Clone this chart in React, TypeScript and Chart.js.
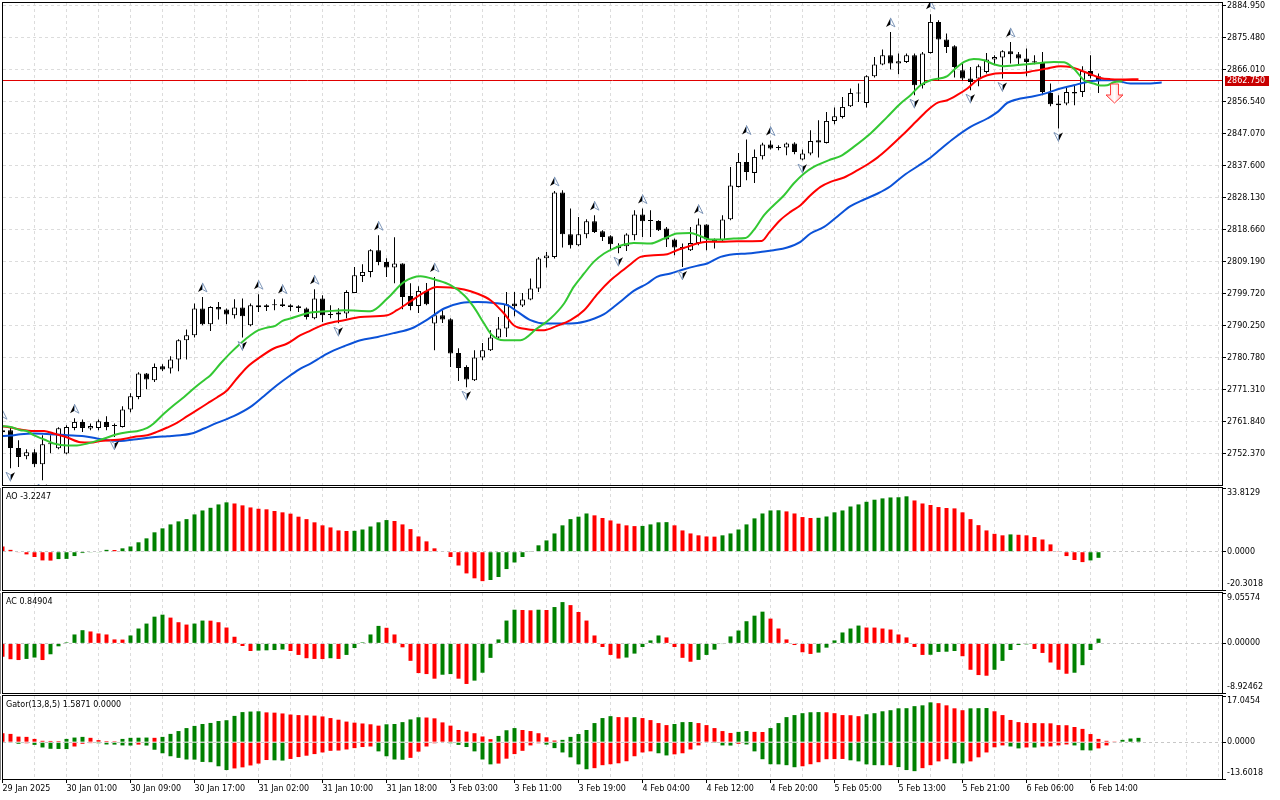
import React, { useEffect, useRef } from "react";
import { Chart, registerables } from "chart.js";

Chart.register(...registerables);

// ---------------- data ----------------
const timeLabels = [
  "29 Jan 2025", "30 Jan 01:00", "30 Jan 09:00", "30 Jan 17:00", "31 Jan 02:00", "31 Jan 10:00",
  "31 Jan 18:00", "3 Feb 03:00", "3 Feb 11:00", "3 Feb 19:00", "4 Feb 04:00", "4 Feb 12:00",
  "4 Feb 20:00", "5 Feb 05:00", "5 Feb 13:00", "5 Feb 21:00", "6 Feb 06:00", "6 Feb 14:00",
];
const barsPerLabel = 8;
const barsPerGridLine = 4;

const priceTicks = [
  2884.95, 2875.48, 2866.01, 2856.54, 2847.07, 2837.6, 2828.13, 2818.66, 2809.19, 2799.72,
  2790.25, 2780.78, 2771.31, 2761.84, 2752.37,
];
const priceMin = 2743.05;
const priceMax = 2885.69;

const barOpen = [
  2758.67, 2759.26, 2754.02, 2751.57, 2752.75, 2749.2, 2755.12, 2753.93, 2752.37, 2759.95,
  2761.72, 2759.76, 2759.95, 2761.72, 2760.53, 2760.24, 2765.39, 2769.12, 2776.04, 2774.06,
  2778.2, 2777.52, 2780.19, 2785.9, 2787.38, 2795.28, 2790.63, 2795.75, 2794.98, 2793.29,
  2795.57, 2790.34, 2796.26, 2795.75, 2796.26, 2796.55, 2796.26, 2795.96, 2795.28, 2792.41,
  2798.24, 2793.5, 2793.5, 2793.8, 2799.89, 2804.92, 2806.11, 2812.53, 2809.07, 2807.41,
  2808.6, 2799.01, 2796.05, 2800.49, 2790.84, 2793.29, 2792.11, 2782.14, 2777.99, 2774.06,
  2780.78, 2782.94, 2786.7, 2789.36, 2796.76, 2796.17, 2797.94, 2801.2, 2810.17, 2810.55,
  2829.61, 2817.27, 2814.01, 2817.27, 2821.11, 2818.16, 2816.67, 2813.87, 2813.72, 2816.97,
  2823.1, 2821.2, 2821.2, 2818.95, 2815.7, 2813.51, 2812.53, 2814.69, 2820.14, 2815.7,
  2815.49, 2821.71, 2831.27, 2838.67, 2835.41, 2840.35, 2843.81, 2842.81, 2842.93, 2844.11,
  2839.37, 2841.15, 2845.09, 2844.29, 2850.8, 2851.98, 2855.15, 2858.91, 2856.13, 2864.03,
  2867.49, 2870.24, 2867.79, 2868.26, 2870.24, 2861.36, 2870.92, 2880.1, 2874.89, 2872.91,
  2865.8, 2863.35, 2863.35, 2865.3, 2868.97, 2869.56, 2871.43, 2870.54, 2869.27, 2868.47,
  2868.26, 2859.09, 2855.95, 2855.95, 2859.38, 2859.38, 2865.6, 2864.03,
];
const barHigh = [
  2761.04, 2760.24, 2756.3, 2753.64, 2753.64, 2757.78, 2757.78, 2760.15, 2760.74, 2762.81,
  2762.43, 2761.24, 2762.43, 2763.41, 2761.24, 2766.37, 2770.21, 2776.43, 2776.22, 2779.0,
  2778.79, 2781.16, 2786.19, 2789.06, 2796.76, 2798.71, 2795.96, 2797.23, 2795.28, 2798.03,
  2798.24, 2796.76, 2799.51, 2796.55, 2798.03, 2798.24, 2796.55, 2796.26, 2795.57, 2800.99,
  2799.22, 2796.26, 2795.37, 2800.69, 2807.59, 2808.39, 2812.83, 2816.97, 2810.16, 2816.38,
  2808.69, 2802.77, 2801.88, 2802.86, 2804.63, 2794.77, 2792.41, 2783.53, 2778.5, 2782.94,
  2785.1, 2788.86, 2792.79, 2800.19, 2800.19, 2799.89, 2804.16, 2810.55, 2812.03, 2830.08,
  2830.29, 2824.87, 2822.39, 2821.71, 2822.89, 2818.45, 2816.97, 2814.6, 2817.56, 2824.37,
  2824.87, 2824.37, 2821.41, 2819.43, 2816.0, 2814.51, 2819.43, 2821.91, 2820.23, 2816.0,
  2822.89, 2837.19, 2841.33, 2845.3, 2842.33, 2844.3, 2845.0, 2843.61, 2844.4, 2844.5,
  2842.33, 2848.05, 2851.01, 2853.46, 2854.76, 2857.9, 2860.39, 2861.87, 2864.32, 2869.74,
  2871.93, 2877.14, 2870.75, 2870.75, 2870.75, 2871.22, 2882.38, 2880.6, 2876.67, 2873.2,
  2867.79, 2866.78, 2867.49, 2870.92, 2870.24, 2871.72, 2874.18, 2871.22, 2872.23, 2870.24,
  2871.22, 2861.87, 2858.4, 2860.68, 2861.36, 2866.99, 2870.24, 2864.83,
];
const barLow = [
  2757.19, 2748.0, 2748.4, 2750.68, 2748.4, 2744.46, 2752.45, 2753.64, 2752.16, 2759.26,
  2758.76, 2759.26, 2759.26, 2759.26, 2757.28, 2760.06, 2764.59, 2768.44, 2771.4, 2773.56,
  2776.81, 2776.04, 2776.72, 2780.19, 2786.7, 2790.34, 2788.65, 2792.02, 2790.63, 2792.32,
  2786.7, 2790.04, 2794.27, 2794.57, 2794.77, 2795.75, 2794.57, 2794.27, 2792.02, 2792.11,
  2791.31, 2792.41, 2790.93, 2792.41, 2799.89, 2803.15, 2804.54, 2808.09, 2804.63, 2802.77,
  2795.07, 2794.77, 2793.98, 2796.26, 2782.94, 2791.02, 2777.99, 2773.85, 2771.99, 2773.85,
  2779.98, 2782.73, 2786.4, 2786.87, 2792.99, 2795.75, 2797.74, 2800.19, 2807.41, 2810.08,
  2813.33, 2813.03, 2813.72, 2816.08, 2817.65, 2815.29, 2812.74, 2811.65, 2812.33, 2815.49,
  2816.47, 2816.47, 2818.25, 2813.51, 2811.05, 2807.59, 2812.33, 2814.01, 2812.53, 2813.03,
  2815.29, 2821.41, 2831.09, 2833.25, 2832.45, 2839.37, 2842.33, 2842.13, 2840.65, 2840.94,
  2839.17, 2840.65, 2840.0, 2844.11, 2849.82, 2851.51, 2854.94, 2856.42, 2854.76, 2863.64,
  2867.28, 2866.01, 2864.62, 2867.96, 2858.4, 2860.39, 2870.75, 2862.84, 2870.92, 2863.64,
  2862.84, 2859.88, 2861.07, 2864.83, 2867.28, 2863.35, 2867.79, 2867.28, 2864.03, 2867.58,
  2858.4, 2855.15, 2848.55, 2855.45, 2855.45, 2857.9, 2863.35, 2859.09,
];
const barClose = [
  2759.26, 2754.02, 2751.36, 2752.75, 2749.2, 2755.12, 2755.27, 2759.85, 2760.24, 2761.72,
  2759.95, 2760.53, 2761.93, 2760.24, 2760.65, 2765.39, 2769.33, 2776.04, 2774.27, 2777.99,
  2777.22, 2780.19, 2785.9, 2787.38, 2795.28, 2790.63, 2795.75, 2794.98, 2793.5, 2795.57,
  2792.99, 2796.26, 2795.66, 2796.26, 2796.34, 2796.05, 2795.75, 2795.46, 2792.79, 2798.24,
  2793.29, 2793.38, 2794.09, 2800.19, 2805.13, 2806.11, 2812.53, 2809.07, 2807.41, 2808.6,
  2798.71, 2796.05, 2800.49, 2796.55, 2793.29, 2792.02, 2781.96, 2777.7, 2774.27, 2780.78,
  2782.94, 2786.7, 2789.36, 2796.55, 2795.96, 2797.94, 2801.2, 2810.08, 2810.96, 2829.61,
  2817.27, 2814.01, 2817.27, 2821.11, 2817.95, 2816.47, 2814.31, 2813.12, 2817.18, 2823.1,
  2821.11, 2821.32, 2818.45, 2815.7, 2813.33, 2813.03, 2814.69, 2820.14, 2815.7, 2815.01,
  2821.62, 2831.68, 2838.67, 2835.71, 2840.15, 2843.81, 2842.63, 2842.87, 2844.11, 2841.62,
  2841.15, 2844.88, 2844.41, 2850.8, 2852.19, 2854.94, 2859.09, 2859.0, 2864.03, 2867.49,
  2870.24, 2867.79, 2868.47, 2870.24, 2861.36, 2870.75, 2880.1, 2874.89, 2872.7, 2866.78,
  2863.35, 2862.34, 2866.99, 2868.97, 2869.74, 2871.43, 2870.54, 2869.27, 2868.26, 2868.08,
  2859.38, 2855.74, 2855.45, 2859.38, 2858.91, 2865.6, 2864.03, 2862.75,
];

const fractalUpBars = [0, 9, 25, 32, 35, 39, 47, 54, 69, 74, 80, 87, 93, 96, 111, 116, 126];
const fractalDownBars = [1, 5, 14, 30, 42, 58, 77, 85, 100, 114, 121, 125, 132];

// Alligator lines: [bar, price]
const jawLine = [
  [-0.25, 2757.49], [1, 2757.69], [2.25, 2758.08], [3.9, 2758.28], [6, 2758.08], [8.1, 2757.78],
  [10.2, 2757.49], [11.8, 2756.8], [13.1, 2756.3], [14.75, 2756.1], [16.4, 2756.51], [18.5, 2757.1],
  [20.6, 2757.49], [22.25, 2757.78], [23.9, 2758.46], [25.2, 2759.76], [26.8, 2761.42], [28.9, 2763.41],
  [31, 2766.16], [32.7, 2769.41], [34.3, 2772.58], [36, 2775.54], [37.25, 2777.52], [38.5, 2779.0],
  [39.75, 2780.78], [40.6, 2781.96], [42.7, 2784.12], [44.75, 2785.9], [46.9, 2786.87], [49, 2788.06],
  [51.1, 2789.36], [53.1, 2792.02], [55.2, 2795.28], [57.3, 2796.94], [59.4, 2797.23], [61.5, 2796.94],
  [63.1, 2796.26], [64.4, 2794.27], [66, 2791.82], [67.75, 2790.84], [69.8, 2790.84], [71.9, 2791.02],
  [74, 2792.32], [75.2, 2793.59], [76.4, 2795.75], [77.5, 2797.8], [78.9, 2800.49], [80.6, 2802.68],
  [81.8, 2804.63], [83.5, 2805.64], [85.1, 2806.82], [86.8, 2807.89], [88.1, 2808.6], [89.75, 2810.55],
  [91.4, 2811.35], [93.1, 2811.56], [94.75, 2812.03], [96.4, 2812.53], [98.1, 2813.33], [99.75, 2815.01],
  [101, 2817.47], [102.7, 2819.43], [104.4, 2822.6], [106, 2825.56], [107.7, 2827.54], [109.4, 2829.31],
  [111, 2831.47], [112.7, 2834.73], [114.4, 2837.39], [115.8, 2839.6], [117.25, 2842.4], [118.9, 2845.59],
  [121, 2849.02], [123.1, 2851.51], [124.4, 2853.46], [125.6, 2856.13], [127.25, 2857.43], [128.9, 2858.11],
  [130.6, 2859.09], [132.25, 2860.39], [133.9, 2861.36], [135.6, 2862.34], [137.25, 2862.84], [138.9, 2862.84],
  [141, 2861.87], [143, 2861.87], [144.9, 2862.16],
];
const teethLine = [
  [-0.25, 2760.45], [1, 2760.06], [2.25, 2759.47], [3.9, 2759.06], [5.2, 2759.06], [6.4, 2758.28],
  [8.1, 2757.1], [9.75, 2755.71], [11, 2755.62], [12.25, 2756.1], [13.5, 2756.3], [14.75, 2756.51],
  [16.4, 2757.28], [18.1, 2757.78], [19.3, 2758.76], [20.6, 2760.06], [21.8, 2761.42], [23.1, 2763.41],
  [24.3, 2765.18], [25.6, 2767.16], [26.8, 2768.94], [28.1, 2771.1], [29.3, 2774.56], [30.6, 2778.0],
  [32.25, 2780.96], [33.9, 2783.44], [35.6, 2784.92], [37.25, 2787.38], [38.5, 2788.75], [39.75, 2790.13],
  [40.6, 2790.84], [42.7, 2791.82], [44.75, 2792.79], [48.1, 2793.3], [49.3, 2794.77], [50.9, 2797.23],
  [52.6, 2799.89], [54.3, 2801.67], [56, 2801.49], [57.7, 2800.9], [59.3, 2799.71], [61, 2797.73],
  [62.7, 2793.8], [63.9, 2790.34], [65.6, 2789.15], [67.7, 2788.86], [69.3, 2790.13], [71, 2791.82],
  [72.7, 2794.77], [74.4, 2799.71], [76, 2803.65], [77.5, 2806.5], [78.5, 2808.4], [79.75, 2810.55],
  [81.4, 2811.05], [83.1, 2811.35], [84.3, 2812.53], [85.6, 2813.51], [86.8, 2814.51], [88.1, 2815.01],
  [89.75, 2815.01], [91.8, 2815.2], [94.9, 2815.29], [95.9, 2817.95], [97.2, 2821.41], [98.5, 2823.87],
  [99.75, 2825.85], [101, 2828.81], [102.25, 2831.27], [103.5, 2832.74], [105.2, 2834.05], [106.9, 2836.21],
  [108.3, 2838.2], [109.4, 2840.0], [110.6, 2842.4], [112.5, 2846.6], [114.2, 2850.6], [115.6, 2853.9],
  [116.9, 2856.2], [118.1, 2856.92], [119.3, 2858.4], [120.6, 2860.39], [121.8, 2862.84], [123.1, 2864.32],
  [125.2, 2865.0], [127.25, 2865.0], [128.9, 2865.6], [130.6, 2866.31], [132.25, 2866.99], [133.5, 2866.78],
  [134.75, 2865.8], [136, 2864.62], [137.25, 2863.52], [138.5, 2863.14], [139.75, 2863.05], [142, 2863.14],
];
const lipsLine = [
  [-0.25, 2760.45], [1, 2760.24], [2.25, 2759.26], [3.1, 2758.97], [3.9, 2757.78], [5.2, 2756.51],
  [6.4, 2755.33], [8.1, 2754.74], [9.3, 2754.74], [10.6, 2755.33], [11.8, 2756.1], [13.1, 2757.1],
  [14.3, 2758.08], [15.6, 2758.67], [16.8, 2758.97], [18.1, 2759.95], [18.9, 2761.25], [20.2, 2764.21],
  [21.4, 2766.66], [22.7, 2769.12], [23.9, 2771.6], [25.2, 2774.06], [26, 2775.54], [27.25, 2779.0],
  [28.5, 2782.14], [29.75, 2784.92], [31, 2787.38], [32, 2788.86], [33.1, 2789.66], [34.1, 2790.13],
  [35, 2791.61], [36, 2792.32], [37.25, 2793.3], [38.5, 2794.09], [40.6, 2794.48], [42.7, 2794.77],
  [46, 2794.48], [48.1, 2798.24], [50.2, 2803.15], [52.25, 2804.84], [54.3, 2803.66], [56, 2802.17],
  [57.7, 2799.22], [58.9, 2795.75], [60.2, 2790.84], [61.2, 2787.38], [62.7, 2785.9], [64.75, 2785.9],
  [66.8, 2789.36], [68.5, 2792.32], [70.2, 2796.76], [71.4, 2801.67], [72.7, 2805.64], [73.9, 2809.07],
  [75.2, 2811.56], [76.4, 2813.04], [77.7, 2814.22], [78.9, 2814.69], [81, 2814.51], [82.7, 2816.0],
  [84.3, 2817.47], [86, 2817.65], [87.25, 2816.67], [88.5, 2815.7], [89.75, 2815.7], [91.4, 2816.0],
  [92.9, 2816.17], [93.9, 2818.45], [95.2, 2822.89], [96.4, 2825.85], [97.7, 2828.81], [98.9, 2832.27],
  [100.2, 2835.23], [101.4, 2837.19], [103.5, 2839.37], [104.75, 2840.35], [106.4, 2843.1], [108.5, 2847.07],
  [110.6, 2851.98], [112.25, 2855.95], [113.5, 2858.4], [114.75, 2861.36], [116, 2862.84], [118.1, 2864.03],
  [118.9, 2865.8], [120.2, 2868.26], [121.4, 2869.15], [122.7, 2868.76], [123.9, 2867.58], [125.2, 2866.99],
  [126.4, 2867.2], [128.1, 2867.58], [129.75, 2867.96], [131.4, 2868.26], [132.7, 2868.17], [133.9, 2866.31],
  [135.2, 2862.84], [136.4, 2861.87], [137.25, 2861.28], [138.1, 2861.36], [138.9, 2862.25], [140, 2862.55],
];

const bidPrice = 2862.75;
const sellSignalBar = 139;
const sellSignalPrice = 2861.72;

const aoValues = [
  2.8, 1.0, -0.2, -1.4, -2.8, -4.6, -4.7, -3.9, -3.8, -2.3,
  -0.7, -0.35, -0.2, 1.0, 0.9, 1.8, 2.8, 5.0, 7.1, 10.3,
  12.4, 14.5, 16.1, 17.3, 19.8, 21.9, 23.3, 25.1, 26.2, 25.6,
  24.6, 23.5, 22.8, 22.5, 21.6, 20.9, 20.2, 18.6, 17.3, 15.6,
  14.0, 12.9, 11.3, 11.0, 11.1, 11.8, 13.4, 15.6, 16.8, 16.3,
  14.5, 12.0, 8.1, 5.5, 1.8, 0.3, -2.8, -7.3, -11.5, -14.1,
  -15.6, -15.0, -13.4, -9.2, -5.7, -2.8, 0.4, 3.4, 6.0, 9.7,
  14.0, 17.3, 18.6, 20.3, 19.3, 17.9, 16.6, 14.9, 14.0, 13.6,
  13.7, 14.5, 15.6, 15.7, 14.0, 11.3, 9.7, 8.7, 8.1, 8.0,
  8.7, 9.7, 11.8, 14.5, 17.7, 20.3, 21.9, 22.0, 21.4, 20.3,
  18.4, 17.9, 18.0, 18.7, 20.9, 21.9, 24.0, 25.1, 26.5, 27.6,
  28.3, 28.8, 28.9, 29.4, 27.2, 25.6, 24.8, 23.7, 23.2, 23.0,
  20.9, 17.3, 14.1, 11.3, 9.5, 8.7, 9.2, 9.0, 8.7, 7.8,
  6.5, 3.9, 0.4, -2.3, -4.4, -5.5, -4.6, -3.2247,
];
const acValues = [
  -2.4, -2.85, -3.0, -2.8, -2.55, -3.0, -1.96, -0.53, 0.18, 1.6,
  2.37, 2.14, 1.78, 1.6, 0.71, 0.68, 1.42, 2.67, 3.56, 4.8,
  5.16, 4.63, 3.8, 3.38, 3.56, 4.1, 4.08, 3.8, 2.85, 1.19,
  -0.47, -1.37, -1.3, -1.25, -1.2, -1.1, -1.37, -2.08, -2.67, -2.8,
  -2.82, -2.67, -2.8, -2.08, -0.83, 0.18, 1.6, 3.14, 2.8, 1.6,
  -0.71, -3.14, -5.34, -5.52, -6.35, -5.64, -5.52, -6.35, -7.3, -6.7,
  -5.28, -2.61, 0.71, 4.1, 6.05, 6.0, 5.95, 6.05, 6.0, 6.53,
  7.42, 6.88, 5.64, 4.1, 1.42, -0.65, -2.08, -2.73, -2.55, -1.84,
  -0.65, 0.53, 1.42, 1.07, -0.65, -2.6, -3.3, -2.97, -2.08, -1.13,
  -0.12, 1.25, 2.31, 3.98, 4.98, 5.7, 4.45, 2.67, 0.71, -0.3,
  -1.6, -1.9, -1.66, -0.77, 0.53, 1.96, 2.67, 3.2, 2.85, 2.84,
  2.67, 2.49, 1.6, 1.07, -0.65, -2.08, -2.05, -1.54, -1.5, -1.37,
  -2.31, -4.75, -5.7, -5.82, -4.75, -3.15, -1.19, -0.3, -0.18, -1.01,
  -1.72, -3.44, -4.75, -5.46, -5.28, -3.92, -1.19, 0.84904,
];
const gatorUpper = [
  3.3, 3.05, 2.05, 1.95, 1.2, 0.5, 0.45, 0.4, 1.2, 1.7,
  1.95, 1.6, 0.75, 0.4, 0.35, 1.2, 1.6, 1.65, 1.7, 1.6,
  1.95, 3.05, 4.1, 5.2, 6.0, 6.7, 7.1, 7.8, 8.1, 9.7,
  11.1, 11.3, 11.4, 11.0, 10.9, 10.6, 10.2, 10.0, 9.9, 9.8,
  9.5, 8.9, 8.3, 7.6, 7.2, 6.9, 6.6, 6.1, 6.6, 6.7,
  7.4, 8.4, 9.2, 9.1, 8.8, 7.3, 6.1, 4.5, 3.9, 3.3,
  2.1, 1.1, 2.3, 4.4, 5.2, 4.5, 4.1, 3.3, 1.8, 0.6,
  0.85, 1.95, 3.0, 4.5, 7.05, 8.9, 9.6, 9.25, 9.2, 9.25,
  8.9, 8.15, 7.05, 6.3, 6.7, 7.4, 7.45, 7.05, 6.3, 5.2,
  4.1, 3.4, 3.8, 4.1, 3.8, 3.75, 5.2, 7.05, 9.25, 10.0,
  10.7, 11.05, 11.1, 11.05, 10.7, 10.0, 9.95, 9.6, 10.3, 10.7,
  11.4, 11.8, 12.5, 12.55, 13.3, 13.6, 14.7, 14.4, 13.6, 12.5,
  11.8, 12.5, 12.55, 12.6, 11.4, 10.0, 8.2, 7.4, 7.1, 7.05,
  7.0, 6.95, 6.3, 6.25, 5.6, 4.9, 3.0, 1.2, 0.5, 0.1,
  0.85, 1.35, 1.5871,
];
const gatorLower = [
  0.05, 0.3, 0.6, 0.4, 1.0, 1.95, 2.45, 2.5, 2.55, 1.6,
  0.6, 0.35, 0.4, 0.85, 0.9, 1.2, 1.25, 0.9, 1.25, 2.8,
  4.1, 5.2, 5.8, 6.4, 6.45, 7.3, 7.4, 8.9, 10.3, 9.7,
  9.3, 8.6, 7.9, 6.6, 6.7, 6.8, 6.2, 5.5, 5.0, 4.4,
  3.8, 3.2, 3.1, 2.7, 2.2, 1.8, 1.6, 3.4, 5.2, 6.4,
  6.5, 5.8, 3.5, 1.6, 0.4, 0.2, 0.4, 1.0, 1.8, 3.4,
  6.4, 8.2, 7.9, 6.1, 4.4, 3.2, 1.2, 0.4, 0.9, 2.2,
  3.8, 5.6, 8.2, 10.0, 9.6, 8.5, 8.15, 7.8, 7.05, 5.2,
  3.8, 3.4, 4.1, 4.9, 4.5, 4.1, 2.7, 1.2, 0.25, 0.3,
  1.2, 1.25, 0.6, 0.85, 3.4, 6.3, 8.15, 8.2, 8.5, 9.25,
  8.9, 8.15, 7.4, 6.3, 6.25, 6.2, 6.7, 7.1, 8.2, 8.5,
  8.52, 8.5, 9.2, 10.3, 10.7, 9.6, 8.5, 7.1, 6.3, 7.8,
  7.85, 7.1, 5.6, 3.8, 1.9, 1.2, 1.6, 2.3, 1.95, 1.97,
  1.6, 1.58, 1.2, 0.85, 1.2, 3.0, 3.05, 2.3, 1.2, 0.1,
  0,
];

const aoRange = [-20.3018, 33.8129];
const acRange = [-8.92462, 9.05574];
const gatorRange = [-13.6018, 17.0454];
const aoTitle = "AO -3.2247";
const acTitle = "AC 0.84904";
const gatorTitle = "Gator(13,8,5) 1.5871 0.0000";

// ---------------- styling ----------------
const FONT_FAMILY = "DejaVu Sans";
const FONT = { family: FONT_FAMILY, size: 8 };
const CSS_FONT = `8px "${FONT_FAMILY}"`;
const GRID_COLOR = "#dcdcdc";
const ZERO_COLOR = "#c8c8c8";
const UP_COLOR = "#008000";
const DOWN_COLOR = "#ff0000";
const JAW_COLOR = "#0b52d8";
const TEETH_COLOR = "#ff0000";
const LIPS_COLOR = "#33c833";
const BID_COLOR = "#e00000";
const BID_BOX = "#c80000";
const AXIS_W = 58;
const X_MIN = 0.0625;
const X_MAX = 152.4375;
const BOTTOM_AXIS_H = 21;
const TRANSPARENT = "rgba(0,0,0,0)";

const gridBars: number[] = [];
for (let b = 0; b * barsPerGridLine <= X_MAX; b++) gridBars.push(b * barsPerGridLine);

const isLabelBar = (v: number) => v % barsPerLabel === 0 && v / barsPerLabel < timeLabels.length;

function clearPadding(s: any) {
  s.paddingTop = 0;
  s.paddingBottom = 0;
  s.paddingLeft = 0;
  s.paddingRight = 0;
}

function xAxis(bottom: boolean): any {
  return {
    type: "linear",
    min: X_MIN,
    max: X_MAX,
    offset: false,
    afterBuildTicks: (s: any) => {
      s.ticks = gridBars.map((v) => ({ value: v }));
    },
    afterFit: (s: any) => {
      s.height = bottom ? BOTTOM_AXIS_H : 0;
      clearPadding(s);
    },
    grid: {
      display: true,
      offset: false,
      color: GRID_COLOR,
      lineWidth: 1,
      drawOnChartArea: true,
      drawTicks: bottom,
      tickLength: 4,
      tickWidth: 1,
      tickColor: (c: any) => (c.tick && isLabelBar(c.tick.value) ? "#000" : TRANSPARENT),
    },
    border: { display: false, dash: [3, 3] },
    ticks: {
      display: bottom,
      autoSkip: false,
      maxRotation: 0,
      minRotation: 0,
      align: "start",
      padding: 1,
      labelOffset: 0,
      color: "#000",
      font: FONT,
      callback: (v: any) => {
        const n = Number(v);
        return isLabelBar(n) ? timeLabels[n / barsPerLabel] : "";
      },
    },
  };
}

function indicatorYAxis(range: number[]): any {
  return {
    type: "linear",
    position: "right",
    min: range[0],
    max: range[1],
    afterBuildTicks: (s: any) => {
      s.ticks = [range[0], 0, range[1]].map((v) => ({ value: v }));
    },
    afterFit: (s: any) => {
      s.width = AXIS_W;
      clearPadding(s);
    },
    grid: {
      z: 1,
      color: (c: any) => (c.tick && c.tick.value === 0 ? ZERO_COLOR : TRANSPARENT),
      lineWidth: 1,
      drawTicks: true,
      tickLength: 4,
      tickColor: "#000",
    },
    border: { display: true, color: "#000", width: 1, dash: [3, 3] },
    ticks: { display: false },
  };
}

const framePlugin = {
  id: "frame",
  afterDraw(chart: any) {
    const { ctx, chartArea: a } = chart;
    ctx.save();
    ctx.strokeStyle = "#000";
    ctx.lineWidth = 1;
    ctx.setLineDash([]);
    ctx.strokeRect(a.left - 0.5, a.top - 0.5, a.right - a.left + 1, a.bottom - a.top + 1);
    ctx.restore();
  },
};

function drawFractal(ctx: any, x: number, y: number, up: boolean) {
  const d = up ? 1 : -1;
  const tipY = y - d * 5;
  const baseY = y + d * 4;
  const notchY = y + d * 1.5;
  const w = 4.5;
  const darkSide = up ? -1 : 1;
  ctx.beginPath();
  ctx.moveTo(x, tipY);
  ctx.lineTo(x + darkSide * w, baseY);
  ctx.lineTo(x, notchY);
  ctx.closePath();
  ctx.fillStyle = "#000";
  ctx.fill();
  ctx.beginPath();
  ctx.moveTo(x, tipY);
  ctx.lineTo(x, notchY);
  ctx.lineTo(x - darkSide * w, baseY);
  ctx.closePath();
  ctx.fillStyle = "#ffffff";
  ctx.fill();
  ctx.strokeStyle = "#7f97b8";
  ctx.lineWidth = 1;
  ctx.stroke();
}

function drawSellArrow(ctx: any, x: number, yTop: number) {
  const shaftHalf = 4;
  const headHalf = 8.5;
  const shaftH = 11;
  const headH = 8;
  ctx.beginPath();
  ctx.moveTo(x - shaftHalf, yTop);
  ctx.lineTo(x + shaftHalf, yTop);
  ctx.lineTo(x + shaftHalf, yTop + shaftH);
  ctx.lineTo(x + headHalf, yTop + shaftH);
  ctx.lineTo(x, yTop + shaftH + headH);
  ctx.lineTo(x - headHalf, yTop + shaftH);
  ctx.lineTo(x - shaftHalf, yTop + shaftH);
  ctx.closePath();
  const g = ctx.createLinearGradient(x - headHalf, 0, x + headHalf, 0);
  g.addColorStop(0, "#ffc8c8");
  g.addColorStop(0.5, "#ffffff");
  g.addColorStop(1, "#ffb0b0");
  ctx.fillStyle = g;
  ctx.fill();
  ctx.strokeStyle = "#ff3b3b";
  ctx.lineWidth = 1;
  ctx.stroke();
}

const mainOverlay = {
  id: "mainOverlay",
  beforeDatasetsDraw(chart: any) {
    const { ctx, chartArea: a, scales } = chart;
    const py = Math.floor(scales.y.getPixelForValue(bidPrice)) + 0.5;
    ctx.save();
    ctx.strokeStyle = BID_COLOR;
    ctx.lineWidth = 1;
    ctx.beginPath();
    ctx.moveTo(a.left, py);
    ctx.lineTo(a.right, py);
    ctx.stroke();
    ctx.restore();
  },
  afterDatasetsDraw(chart: any) {
    const { ctx, chartArea: a, scales } = chart;
    const xs = scales.x;
    const ys = scales.y;
    ctx.save();
    ctx.beginPath();
    ctx.rect(a.left, a.top, a.right - a.left, a.bottom - a.top);
    ctx.clip();
    fractalUpBars.forEach((i) => drawFractal(ctx, xs.getPixelForValue(i), ys.getPixelForValue(barHigh[i]) - 9, true));
    fractalDownBars.forEach((i) => drawFractal(ctx, xs.getPixelForValue(i), ys.getPixelForValue(barLow[i]) + 8, false));
    drawSellArrow(ctx, xs.getPixelForValue(sellSignalBar), ys.getPixelForValue(sellSignalPrice));
    ctx.restore();
  },
  afterDraw(chart: any) {
    const { ctx, chartArea: a, scales } = chart;
    const py = scales.y.getPixelForValue(bidPrice);
    ctx.save();
    ctx.fillStyle = BID_BOX;
    ctx.fillRect(a.right + 3, Math.round(py - 5), 44, 10);
    ctx.fillStyle = "#fff";
    ctx.font = CSS_FONT;
    ctx.textAlign = "left";
    ctx.textBaseline = "middle";
    ctx.fillText(bidPrice.toFixed(3), a.right + 5, py);
    ctx.restore();
  },
};

function indicatorOverlay(title: string, range: number[], decimals: number) {
  return {
    id: "indicatorOverlay",
    afterDraw(chart: any) {
      const { ctx, chartArea: a, scales } = chart;
      ctx.save();
      ctx.font = CSS_FONT;
      ctx.fillStyle = "#000";
      ctx.textAlign = "left";
      ctx.textBaseline = "middle";
      ctx.fillText(title, 6, a.top + 9);
      [range[1], 0, range[0]].forEach((v) => {
        let py = scales.y.getPixelForValue(v);
        py = Math.min(Math.max(py, a.top + 4.5), a.bottom - 6);
        ctx.fillText(v.toFixed(decimals), a.right + 5, py);
      });
      ctx.restore();
    },
  };
}

function risingColors(values: number[], useAbs: boolean) {
  return values.map((v, i) => {
    if (i === 0) return DOWN_COLOR;
    const cur = useAbs ? Math.abs(v) : v;
    const prev = useAbs ? Math.abs(values[i - 1]) : values[i - 1];
    return cur > prev ? UP_COLOR : DOWN_COLOR;
  });
}

const baseOptions = {
  responsive: false,
  animation: false,
  events: [],
  plugins: { legend: { display: false }, tooltip: { enabled: false } },
};

function mainConfig(): any {
  const linePts = (pts: number[][]) => pts.map((p) => ({ x: p[0], y: p[1] }));
  const lineDs = (label: string, pts: number[][], color: string, order: number) => ({
    type: "line",
    label,
    data: linePts(pts),
    borderColor: color,
    borderWidth: 2,
    pointRadius: 0,
    cubicInterpolationMode: "monotone",
    fill: false,
    order,
  });
  return {
    type: "bar",
    data: {
      datasets: [
        lineDs("Lips", lipsLine, LIPS_COLOR, 1),
        lineDs("Teeth", teethLine, TEETH_COLOR, 2),
        lineDs("Jaw", jawLine, JAW_COLOR, 3),
        {
          type: "bar",
          label: "Body",
          data: barOpen.map((o, i) => ({ x: i, y: [o, barClose[i]] })),
          backgroundColor: barOpen.map((o, i) => (barClose[i] > o ? "#ffffff" : "#000000")),
          borderColor: "#000",
          borderWidth: 1,
          borderSkipped: false,
          barThickness: 5,
          minBarLength: 1,
          inflateAmount: 0,
          grouped: false,
          order: 4,
        },
        {
          type: "bar",
          label: "Wick",
          data: barHigh.map((h, i) => ({ x: i, y: [barLow[i], h] })),
          backgroundColor: "#000",
          borderWidth: 0,
          barThickness: 1,
          inflateAmount: 0,
          grouped: false,
          order: 5,
        },
      ],
    },
    options: {
      ...baseOptions,
      layout: { padding: { left: 3, right: 0, top: 3, bottom: 2 } },
      scales: {
        x: xAxis(false),
        y: {
          type: "linear",
          position: "right",
          min: priceMin,
          max: priceMax,
          afterBuildTicks: (s: any) => {
            s.ticks = priceTicks.map((v) => ({ value: v }));
          },
          afterFit: (s: any) => {
            s.width = AXIS_W;
            clearPadding(s);
          },
          grid: { color: GRID_COLOR, lineWidth: 1, drawTicks: true, tickLength: 4, tickColor: "#000" },
          border: { display: true, color: "#000", width: 1, dash: [3, 3] },
          ticks: {
            autoSkip: false,
            padding: 1,
            color: "#000",
            font: FONT,
            callback: (v: any) => Number(v).toFixed(3),
          },
        },
      },
    },
    plugins: [mainOverlay, framePlugin],
  };
}

function histConfig(
  sets: { values: number[]; colors: string[] }[],
  range: number[],
  title: string,
  decimals: number,
  bottom: boolean,
  padBottom: number
): any {
  return {
    type: "bar",
    data: {
      datasets: sets.map((s, k) => ({
        type: "bar",
        label: "h" + k,
        data: s.values.map((v, i) => ({ x: i, y: v })),
        backgroundColor: s.colors,
        borderWidth: 0,
        barThickness: 4,
        inflateAmount: 0,
        grouped: false,
      })),
    },
    options: {
      ...baseOptions,
      layout: { padding: { left: 3, right: 0, top: 1, bottom: padBottom } },
      scales: { x: xAxis(bottom), y: indicatorYAxis(range) },
    },
    plugins: [framePlugin, indicatorOverlay(title, range, decimals)],
  };
}

export default function App() {
  const mainRef = useRef<HTMLCanvasElement>(null);
  const aoRef = useRef<HTMLCanvasElement>(null);
  const acRef = useRef<HTMLCanvasElement>(null);
  const gatorRef = useRef<HTMLCanvasElement>(null);

  useEffect(() => {
    document.body.style.margin = "0";
    document.body.style.background = "#fff";
    const charts: Chart[] = [];
    charts.push(new Chart(mainRef.current as HTMLCanvasElement, mainConfig()));
    charts.push(
      new Chart(
        aoRef.current as HTMLCanvasElement,
        histConfig([{ values: aoValues, colors: risingColors(aoValues, false) }], aoRange, aoTitle, 4, false, 1)
      )
    );
    charts.push(
      new Chart(
        acRef.current as HTMLCanvasElement,
        histConfig([{ values: acValues, colors: risingColors(acValues, false) }], acRange, acTitle, 5, false, 1)
      )
    );
    const lowerNeg = gatorLower.map((v) => -v);
    charts.push(
      new Chart(
        gatorRef.current as HTMLCanvasElement,
        histConfig(
          [
            { values: gatorUpper, colors: risingColors(gatorUpper, true) },
            { values: lowerNeg, colors: risingColors(lowerNeg, true) },
          ],
          gatorRange,
          gatorTitle,
          4,
          true,
          0
        )
      )
    );
    return () => charts.forEach((c) => c.destroy());
  }, []);

  const abs = (top: number): React.CSSProperties => ({ position: "absolute", left: 0, top });
  return (
    <div style={{ position: "relative", width: 1280, height: 800, background: "#fff", overflow: "hidden" }}>
      <canvas ref={mainRef} width={1280} height={487} style={abs(0)} />
      <canvas ref={aoRef} width={1280} height={104} style={abs(487)} />
      <canvas ref={acRef} width={1280} height={102} style={abs(592)} />
      <canvas ref={gatorRef} width={1280} height={105} style={abs(695)} />
    </div>
  );
}
